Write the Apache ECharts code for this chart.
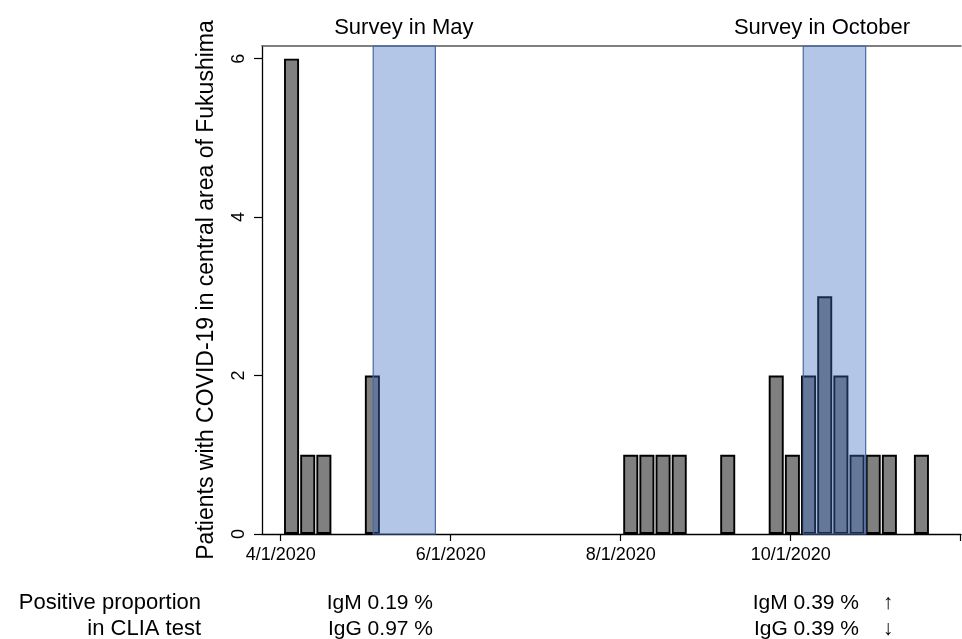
<!DOCTYPE html>
<html>
<head>
<meta charset="utf-8">
<script src="https://cdn.jsdelivr.net/npm/echarts@6/dist/echarts.min.js"></script>
<style>
html,body{margin:0;padding:0;background:#fff;}
#chart{width:962px;height:639px;}
</style>
</head>
<body>
<div id="chart"></div>
<script>
// ---- data (days counted from 4/1/2020) ----
const binCenterDays = [3.9, 9.7, 15.5, 32.9, 125.6, 131.4, 137.2, 143.0, 160.4, 177.8, 183.6, 189.4, 195.2, 201.0, 206.8, 212.6, 218.4, 229.9];
const binCounts     = [6,   1,   1,    2,    1,     1,     1,     1,     1,     2,     1,     2,     3,     2,     1,     1,     1,     1];

const surveyNames = ['Survey in May', 'Survey in October'];
const surveyStart = [33.2, 187.5];
const surveyEnd   = [55.5, 209.9];
const surveyLabelDay = [44.2, 194.2];

const xTickDays   = [0, 61, 122, 183, 244];
const xLabelDays  = [0, 61, 122, 183];
const xTickLabels = ['4/1/2020', '6/1/2020', '8/1/2020', '10/1/2020'];
const yTicks = [0, 2, 4, 6];

const yTitle = 'Patients with COVID-19 in central area of Fukushima';
const rowTitles = ['Positive proportion', 'in CLIA test'];
const mayTexts = ['IgM 0.19 %', 'IgG 0.97 %'];
const octTexts = ['IgM 0.39 %', 'IgG 0.39 %'];
const octArrows = ['\u2191', '\u2193'];

const X_MIN = -6.7, X_MAX = 244.1, Y_MAX = 6.16;
const FONT = "'Liberation Sans', Arial, Helvetica, sans-serif";

const chart = echarts.init(document.getElementById('chart'), null, {renderer: 'canvas'});

const barData = binCenterDays.map((d, i) => [d, binCounts[i]]);
const surveyData = surveyStart.map((s, i) => [s, surveyEnd[i], surveyLabelDay[i]]);

const graphics = [];
rowTitles.forEach((t, i) => graphics.push({type: 'text', x: 201, y: 603 + i * 26,
  style: {text: t, align: 'right', verticalAlign: 'middle', font: '22px ' + FONT, fill: '#000'}}));
mayTexts.forEach((t, i) => graphics.push({type: 'text', x: 433, y: 603 + i * 26,
  style: {text: t, align: 'right', verticalAlign: 'middle', font: '21px ' + FONT, fill: '#000'}}));
octTexts.forEach((t, i) => graphics.push({type: 'text', x: 859, y: 603 + i * 26,
  style: {text: t, align: 'right', verticalAlign: 'middle', font: '21px ' + FONT, fill: '#000'}}));
octArrows.forEach((t, i) => graphics.push({type: 'text', x: 888, y: 603 + i * 26,
  style: {text: t, align: 'center', verticalAlign: 'middle', font: '21px ' + FONT, fill: '#000'}}));

const option = {
  animation: false,
  backgroundColor: '#fff',
  grid: {left: 262, right: 1, top: 46, bottom: 105, containLabel: false},
  xAxis: [{
    type: 'value', min: X_MIN, max: X_MAX, position: 'bottom',
    axisLine: {show: true, lineStyle: {color: '#000', width: 1.3}},
    axisTick: {show: true, length: 7, customValues: xTickDays, lineStyle: {color: '#000', width: 1.2}},
    axisLabel: {show: true, customValues: xLabelDays, margin: 12, color: '#000',
      fontSize: 18, fontFamily: FONT,
      formatter: v => { const k = xLabelDays.indexOf(v); return k >= 0 ? xTickLabels[k] : ''; }},
    splitLine: {show: false}
  }, {
    type: 'value', min: X_MIN, max: X_MAX, position: 'top',
    axisLine: {show: true, onZero: false, lineStyle: {color: '#555', width: 1.5}},
    axisTick: {show: false}, axisLabel: {show: false}, splitLine: {show: false}
  }],
  yAxis: {
    type: 'value', min: 0, max: Y_MAX,
    name: yTitle, nameLocation: 'middle', nameRotate: 90, nameGap: 44,
    nameTextStyle: {fontSize: 23, fontFamily: FONT, color: '#000'},
    axisLine: {show: true, onZero: false, lineStyle: {color: '#000', width: 1.3}},
    axisTick: {show: true, length: 8, customValues: yTicks, lineStyle: {color: '#000', width: 1.2}},
    axisLabel: {show: true, customValues: yTicks, rotate: 90, margin: 14, color: '#000',
      fontSize: 18, fontFamily: FONT},
    splitLine: {show: false}
  },
  series: [{
    type: 'bar', xAxisIndex: 0, data: barData, barWidth: 15, z: 2,
    itemStyle: {color: '#808080', borderColor: '#000', borderWidth: 1.9}
  }, {
    type: 'custom', xAxisIndex: 0, z: 3, clip: false,
    data: surveyData,
    encode: {x: [0, 1]},
    renderItem: function (params, api) {
      const s = api.value(0), e = api.value(1), l = api.value(2);
      const p0 = api.coord([s, 0]);
      const p1 = api.coord([e, Y_MAX]);
      const pl = api.coord([l, Y_MAX]);
      return {type: 'group', children: [
        {type: 'rect', shape: {x: p0[0], y: p1[1], width: p1[0] - p0[0], height: p0[1] - p1[1]},
         style: {fill: 'rgba(61,107,195,0.39)', stroke: '#4a68a3', lineWidth: 1.2}},
        {type: 'text', x: pl[0], y: p1[1] - 18,
         style: {text: surveyNames[params.dataIndex], align: 'center', verticalAlign: 'middle',
           font: '22px ' + FONT, fill: '#000'}}
      ]};
    }
  }],
  graphic: graphics
};
chart.setOption(option);
</script>
</body>
</html>
